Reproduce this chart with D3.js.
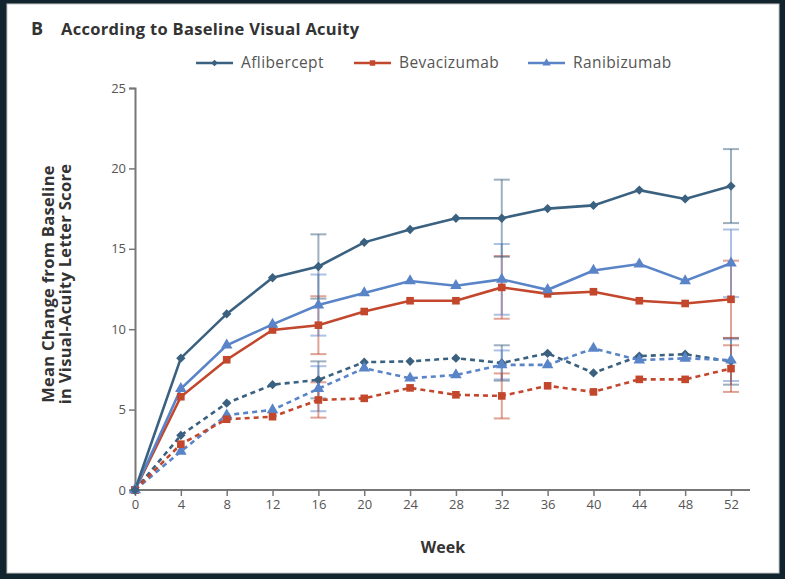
<!DOCTYPE html>
<html>
<head>
<meta charset="utf-8">
<script src="https://cdn.jsdelivr.net/npm/d3@7"></script>
<style>
  html, body { margin: 0; padding: 0; background: #12242d; }
  svg { display: block; }
</style>
</head>
<body>
<svg id="chart" width="785" height="579"></svg>
<script>
// data
const weeks = [0, 4, 8, 12, 16, 20, 24, 28, 32, 36, 40, 44, 48, 52];
const seriesNames = ['Aflibercept', 'Bevacizumab', 'Ranibizumab'];

// solid lines
const aflSolid = [0, 8.2, 10.95, 13.2, 13.9, 15.4, 16.2, 16.9, 16.9, 17.5, 17.7, 18.65, 18.1, 18.9];
const bevSolid = [0, 5.8, 8.1, 9.95, 10.25, 11.1, 11.77, 11.77, 12.6, 12.2, 12.33, 11.77, 11.6, 11.86];
const ranSolid = [0, 6.3, 9.0, 10.3, 11.5, 12.25, 13.0, 12.7, 13.1, 12.45, 13.65, 14.05, 13.0, 14.1];

// dashed lines
const aflDashed = [0, 3.4, 5.4, 6.55, 6.85, 7.95, 8.0, 8.2, 7.9, 8.5, 7.28, 8.33, 8.44, 8.0];
const bevDashed = [0, 2.85, 4.4, 4.56, 5.6, 5.7, 6.35, 5.92, 5.85, 6.48, 6.1, 6.88, 6.88, 7.55];
const ranDashed = [0, 2.4, 4.66, 4.98, 6.3, 7.57, 6.95, 7.15, 7.78, 7.78, 8.8, 8.08, 8.19, 8.08];

// 95% CI half widths at weeks 16, 32, 52
const errWeeks = [16, 32, 52];
const aflSolidErr = [2.0, 2.4, 2.3];
const bevSolidErr = [1.8, 1.95, 2.4];
const ranSolidErr = [1.9, 2.2, 2.1];
const aflDashedErr = [1.15, 1.1, 1.45];
const bevDashedErr = [1.1, 1.4, 1.45];
const ranDashedErr = [1.4, 0.9, 1.3];

const yTicks = [0, 5, 10, 15, 20, 25];

const colors = { Aflibercept: '#3b6180', Bevacizumab: '#c2472d', Ranibizumab: '#5a84c8' };

const series = [
  { name: 'Aflibercept', values: aflDashed, err: aflDashedErr, dashed: true },
  { name: 'Ranibizumab', values: ranDashed, err: ranDashedErr, dashed: true },
  { name: 'Bevacizumab', values: bevDashed, err: bevDashedErr, dashed: true },
  { name: 'Bevacizumab', values: bevSolid, err: bevSolidErr, dashed: false },
  { name: 'Ranibizumab', values: ranSolid, err: ranSolidErr, dashed: false },
  { name: 'Aflibercept', values: aflSolid, err: aflSolidErr, dashed: false },
];

const svg = d3.select('#chart');
const font = '"Open Sans", Lato, sans-serif';

// marker shape per drug: diamond = rotated square
function marker(name, size) {
  if (name === 'Aflibercept') return { d: d3.symbol().type(d3.symbolSquare).size(size * 0.75)(), rot: 45 };
  if (name === 'Bevacizumab') return { d: d3.symbol().type(d3.symbolSquare).size(size)(), rot: 0 };
  return { d: d3.symbol().type(d3.symbolTriangle).size(size)(), rot: 0 };
}

// white panel on dark background
svg.append('rect')
  .attr('x', 0).attr('y', 0).attr('width', 785).attr('height', 579)
  .attr('fill', '#12242d');
svg.append('rect')
  .attr('x', 7).attr('y', 4).attr('width', 772).attr('height', 569)
  .attr('fill', '#ffffff')
  .attr('stroke', '#c8c8c8').attr('stroke-width', 1);

const x = d3.scaleLinear().domain([0, 52]).range([135, 731]);
const y = d3.scaleLinear().domain([0, 25]).range([490, 88]);

// title
svg.append('text')
  .attr('x', 31).attr('y', 35)
  .attr('font-family', font).attr('font-weight', 700)
  .attr('font-size', 18).attr('fill', '#333')
  .text('B');
svg.append('text')
  .attr('x', 61).attr('y', 35)
  .attr('font-family', font).attr('font-weight', 700)
  .attr('font-size', 16.5).attr('fill', '#333')
  .attr('letter-spacing', 0.3)
  .text('According to Baseline Visual Acuity');

// axes
const gx = svg.append('g').attr('transform', `translate(0,${y(0)})`)
  .call(d3.axisBottom(x).tickValues(weeks).tickSize(6).tickPadding(4));
gx.select('.domain').attr('d', `M${x(0)},0H750`);
const gy = svg.append('g').attr('transform', `translate(${x(0)},0)`)
  .call(d3.axisLeft(y).tickValues(yTicks).tickSize(6).tickPadding(3));

[gx, gy].forEach(g => {
  g.selectAll('.domain').attr('stroke', '#777').attr('stroke-width', 2);
  g.selectAll('.tick line').attr('stroke', '#777').attr('stroke-width', 1.5);
  g.selectAll('.tick text')
    .attr('font-family', font).attr('font-size', 13).attr('fill', '#555');
});

// axis titles
svg.append('text')
  .attr('x', 443).attr('y', 553).attr('text-anchor', 'middle')
  .attr('font-family', font).attr('font-weight', 700)
  .attr('font-size', 16).attr('fill', '#333')
  .text('Week');

const yt = svg.append('text')
  .attr('transform', 'translate(54,284) rotate(-90)')
  .attr('text-anchor', 'middle')
  .attr('font-family', font).attr('font-weight', 700)
  .attr('font-size', 16.5).attr('fill', '#333')
  .attr('letter-spacing', 0.3);
yt.append('tspan').attr('x', 0).attr('dy', 0).text('Mean Change from Baseline');
yt.append('tspan').attr('x', 0).attr('dy', 17).text('in Visual-Acuity Letter Score');

const plot = svg.append('g');

// error bars
series.forEach(s => {
  const c = colors[s.name];
  errWeeks.forEach((w, i) => {
    const v = s.values[weeks.indexOf(w)];
    const lo = v - s.err[i], hi = v + s.err[i];
    const g = plot.append('g').attr('stroke', c).attr('stroke-opacity', 0.5).attr('stroke-width', 2);
    g.append('line').attr('x1', x(w)).attr('x2', x(w)).attr('y1', y(lo)).attr('y2', y(hi));
    g.append('line').attr('x1', x(w) - 8).attr('x2', x(w) + 8).attr('y1', y(lo)).attr('y2', y(lo));
    g.append('line').attr('x1', x(w) - 8).attr('x2', x(w) + 8).attr('y1', y(hi)).attr('y2', y(hi));
  });
});

// lines
const line = d3.line().x((d, i) => x(weeks[i])).y(d => y(d));
series.forEach(s => {
  plot.append('path')
    .datum(s.values)
    .attr('d', line)
    .attr('fill', 'none')
    .attr('stroke', colors[s.name])
    .attr('stroke-width', 2.6)
    .attr('stroke-dasharray', s.dashed ? '5,4' : null);
});

// markers
series.forEach(s => {
  const m = marker(s.name, 58);
  plot.append('g').selectAll('path')
    .data(s.values)
    .join('path')
    .attr('transform', (d, i) => `translate(${x(weeks[i])},${y(d)}) rotate(${m.rot})`)
    .attr('d', m.d)
    .attr('fill', colors[s.name]);
});

// legend
const legendX = [196, 354, 528];
seriesNames.forEach((n, i) => {
  const g = svg.append('g').attr('transform', `translate(${legendX[i]},63)`);
  g.append('line').attr('x1', 0).attr('x2', 37).attr('y1', 0).attr('y2', 0)
    .attr('stroke', colors[n]).attr('stroke-width', 2.5);
  const m = marker(n, 30);
  g.append('path').attr('transform', `translate(18.5,0) rotate(${m.rot})`)
    .attr('d', m.d).attr('fill', colors[n]);
  g.append('text').attr('x', 45).attr('y', 5)
    .attr('font-family', font).attr('font-size', 15.5).attr('fill', '#555')
    .attr('letter-spacing', 0.4)
    .text(n);
});
</script>
</body>
</html>
